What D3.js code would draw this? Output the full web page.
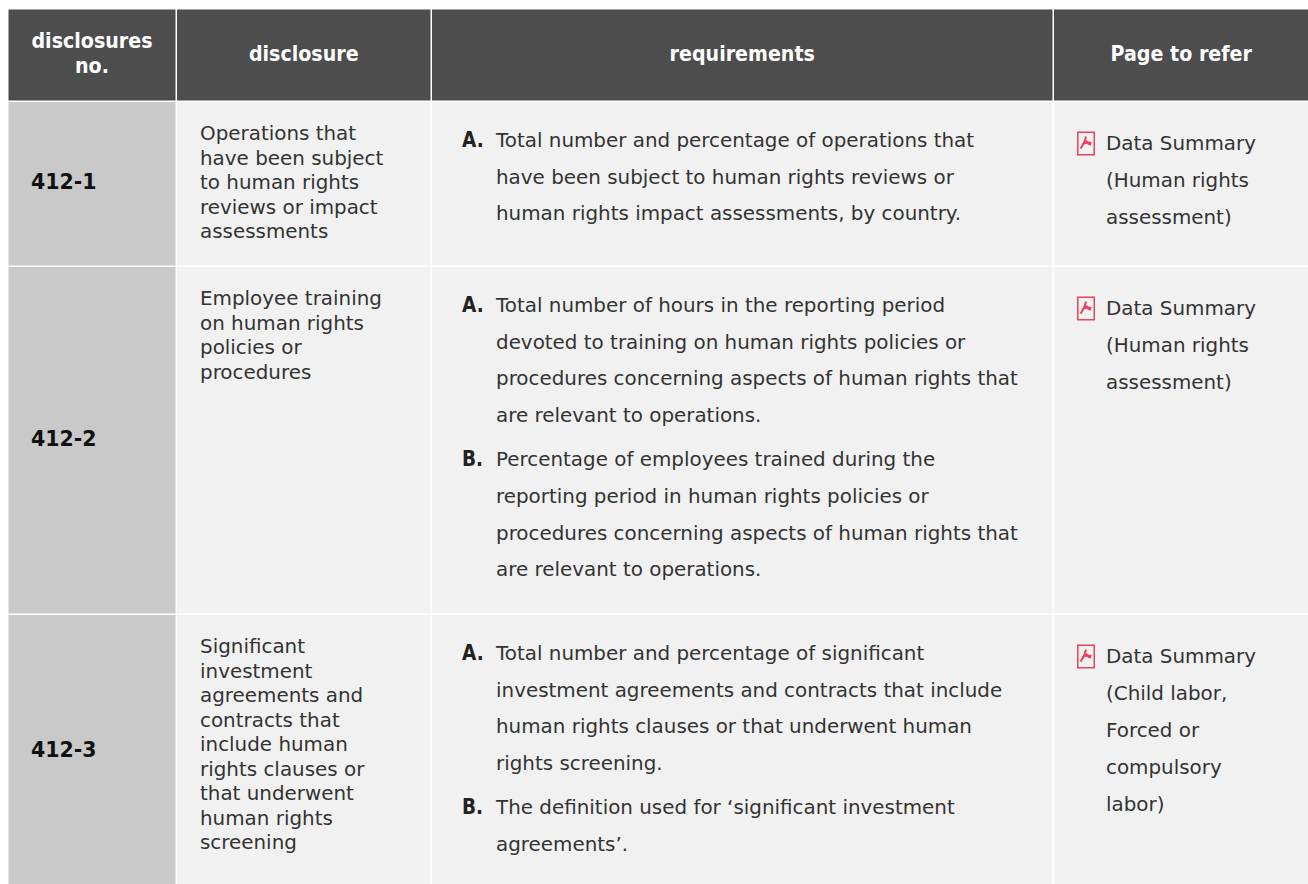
<!DOCTYPE html>
<html>
<head>
<meta charset="utf-8">
<script src="https://cdn.jsdelivr.net/npm/d3@7"></script>
<style>
html, body { margin: 0; padding: 0; background: #fff; overflow: hidden; }
text { font-family: "DejaVu Sans", sans-serif; }
.narrow { font-stretch: condensed; }
</style>
</head>
<body>
<script>
// table content
var headers = [["disclosures", "no."], ["disclosure"], ["requirements"], ["Page to refer"]]
var numbers = ["412-1", "412-2", "412-3"]
var disclosures = [
    ["Operations that", "have been subject", "to human rights", "reviews or impact", "assessments"],
    ["Employee training", "on human rights", "policies or", "procedures"],
    ["Significant", "investment", "agreements and", "contracts that", "include human", "rights clauses or", "that underwent", "human rights", "screening"]
]
var requirements = [
    [{ mark: "A.", lines: ["Total number and percentage of operations that", "have been subject to human rights reviews or", "human rights impact assessments, by country."] }],
    [{ mark: "A.", lines: ["Total number of hours in the reporting period", "devoted to training on human rights policies or", "procedures concerning aspects of human rights that", "are relevant to operations."] },
     { mark: "B.", lines: ["Percentage of employees trained during the", "reporting period in human rights policies or", "procedures concerning aspects of human rights that", "are relevant to operations."] }],
    [{ mark: "A.", lines: ["Total number and percentage of significant", "investment agreements and contracts that include", "human rights clauses or that underwent human", "rights screening."] },
     { mark: "B.", lines: ["The definition used for \u2018significant investment", "agreements\u2019."] }]
]
var pages = [
    ["Data Summary", "(Human rights", "assessment)"],
    ["Data Summary", "(Human rights", "assessment)"],
    ["Data Summary", "(Child labor,", "Forced or", "compulsory", "labor)"]
]

var colX = [8.5, 177, 432, 1054, 1310]
var rowY = [9.5, 102, 267, 615, 890]
var gap = 1.5

var svg = d3.select("body").append("svg")
    .attr("width", 1308)
    .attr("height", 884)
    .style("display", "block")

function cell(c, r, fill) {
    svg.append("rect")
        .attr("x", colX[c])
        .attr("y", rowY[r])
        .attr("width", colX[c + 1] - colX[c] - gap)
        .attr("height", rowY[r + 1] - rowY[r] - gap)
        .attr("fill", fill)
}

function lines(data, x, y, step, size, color, weight, anchor, cls) {
    svg.append("g").selectAll("text")
        .data(data)
        .enter().append("text")
        .attr("class", cls || null)
        .attr("x", x)
        .attr("y", function (d, i) { return y + i * step })
        .attr("text-anchor", anchor || "start")
        .attr("font-size", size)
        .attr("font-weight", weight || "normal")
        .attr("fill", color)
        .text(function (d) { return d })
}

// header row
headers.forEach(function (h, c) {
    cell(c, 0, "#4d4d4d")
    var mid = (colX[c] + colX[c + 1] - gap) / 2
    var top = h.length > 1 ? 48 : 61
    lines(h, mid, top, 24.5, 21.2, "#fff", "bold", "middle", "narrow")
})

// body rows
numbers.forEach(function (n, i) {
    var r = i + 1
    cell(0, r, "#c9c9c9")
    cell(1, r, "#f1f1f1")
    cell(2, r, "#f1f1f1")
    cell(3, r, "#f1f1f1")

    var mid = (rowY[r] + rowY[r + 1] - gap) / 2
    lines([n], 31, mid + 5.5, 0, 20.5, "#111", "bold")

    lines(disclosures[i], 200, rowY[r] + 38, 24.5, 19.9, "#333")

    var y = rowY[r] + 45
    requirements[i].forEach(function (item) {
        lines([item.mark], 462, y, 0, 20.5, "#222", "bold", "start", "narrow")
        lines(item.lines, 496, y, 36.7, 19.9, "#333")
        y += item.lines.length * 36.7 + 7.5
    })

    lines(pages[i], 1106, rowY[r] + 48, 36.9, 19.9, "#333")

    // pdf icon
    var icon = svg.append("g").attr("transform", "translate(1077," + (rowY[r] + 29.5) + ")")
    icon.append("rect")
        .attr("x", 0.75).attr("y", 0.75)
        .attr("width", 16.5).attr("height", 22.5)
        .attr("fill", "none")
        .attr("stroke", "#e5455f")
        .attr("stroke-width", 1.5)
    icon.append("path")
        .attr("d", "M9 5 C8 9 6 14 3.5 17 M5 13 C8 11 11 10.5 14.5 11.5 M9 9 C10 11 12 13 14 13")
        .attr("fill", "none")
        .attr("stroke", "#e5455f")
        .attr("stroke-width", 2)
})
</script>
</body>
</html>
